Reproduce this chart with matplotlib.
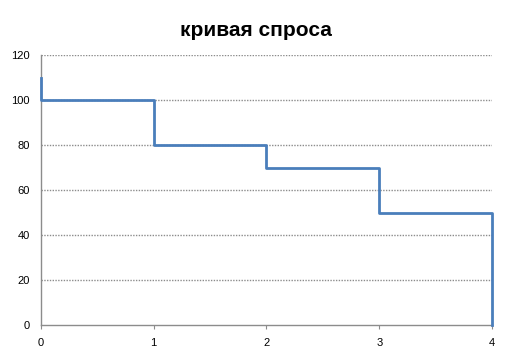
import matplotlib
matplotlib.use("Agg")
import matplotlib.pyplot as plt

plt.rcParams['font.family'] = ['Liberation Sans', 'DejaVu Sans']

# data
x_vals = [0, 0, 1, 1, 2, 2, 3, 3, 4, 4]
y_vals = [110, 100, 100, 80, 80, 70, 70, 50, 50, 0]
y_ticks = [0, 20, 40, 60, 80, 100, 120]
x_ticks = [0, 1, 2, 3, 4]
title = "кривая спроса"

fig = plt.figure(figsize=(5.11, 3.58), dpi=100)
ax = fig.add_axes([0.080, 0.092, 0.883, 0.754])
ax.set_xlim(0, 4)
ax.set_ylim(0, 120)
ax.set_yticks(y_ticks)
ax.set_xticks(x_ticks)
for yv in y_ticks[1:]:
    ax.axhline(yv, color="#8c8c8c", lw=1, ls=(0, (1, 1)), zorder=1)
for s in ["top", "right"]:
    ax.spines[s].set_visible(False)
for s in ["left", "bottom"]:
    ax.spines[s].set_color("#8c8c8c")
    ax.spines[s].set_linestyle((0, (1, 1)))
    ax.spines[s].set_linewidth(1)
ax.tick_params(axis="both", length=3, color="#8c8c8c", labelsize=8, pad=6)
ax.tick_params(axis="y", length=0, pad=8)
ax.plot(x_vals, y_vals, color="#4a7ebb", lw=2, zorder=3, clip_on=False)
fig.text(0.5, 0.915, title, ha="center", va="center", fontsize=15, fontweight="bold")
fig.savefig("out.png", dpi=100)
